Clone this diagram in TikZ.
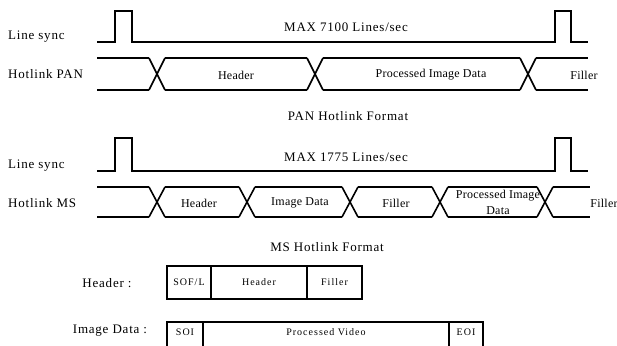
\documentclass[tikz,border=0pt]{standalone}
\usepackage{fontspec}
\setmainfont{Liberation Serif}
\newfontfamily\spacedfont[LetterSpace=6]{Liberation Serif}
\newfontfamily\busfont[LetterSpace=2]{Liberation Serif}
\newfontfamily\cellfont[LetterSpace=10]{Liberation Serif}
\usetikzlibrary{positioning}

\tikzset{
  wave/.style = {line width=1.6pt, line join=miter},
  siglabel/.style = {anchor=west, inner sep=0pt, font=\spacedfont\fontsize{13}{15}\selectfont},
  title/.style = {inner sep=0pt, font=\spacedfont\fontsize{13}{15}\selectfont},
  buslabel/.style = {inner sep=0pt, align=center, font=\busfont\fontsize{12}{16}\selectfont},
  cell/.style = {draw, line width=1.6pt, minimum height=33pt, inner sep=0pt, outer sep=0pt,
                 font=\cellfont\fontsize{10}{12}\selectfont},
  celltext/.style = {inner sep=0pt, font=\cellfont\fontsize{10}{12}\selectfont},
}

\begin{document}
\begin{tikzpicture}[x=1pt, y=-1pt]
  \clip (0,0) rectangle (617,345);
  \fill [white] (0,0) rectangle (617,345);

  % PAN line sync
  \node [siglabel] (syncpan) at (8,37) {Line sync};
  \draw [wave] (97,42) -- (115,42) -- (115,11) -- (132,11) -- (132,42)
    -- (555,42) -- (555,11) -- (571,11) -- (571,42) -- (588,42);
  \node [title] (maxpan) at (346,27) {MAX 7100 Lines/sec};

  % PAN hotlink bus
  \node [siglabel] (buspan) at (8,74) {Hotlink PAN};
  \foreach \a/\b in {97/149, 165/307, 323/520, 536/588}
    \draw [wave] (\a,58) -- (\b,58) (\a,90) -- (\b,90);
  \foreach \c in {157, 315, 528}
    \draw [wave] (\c-8,58) -- (\c+8,90) (\c-8,90) -- (\c+8,58);
  \node [buslabel] (panhead) at (236,75) {Header};
  \node [buslabel] (pandata) at (431,75) {Processed Image Data};
  \node [buslabel] (panfill) at (584,75) {Filler};
  \node [title] (panfmt) at (348,116) {PAN Hotlink Format};

  % MS line sync
  \node [siglabel] (syncms) at (8,166) {Line sync};
  \draw [wave] (97,171) -- (115,171) -- (115,138) -- (132,138) -- (132,171)
    -- (555,171) -- (555,138) -- (571,138) -- (571,171) -- (588,171);
  \node [title] (maxms) at (346,157) {MAX 1775 Lines/sec};

  % MS hotlink bus
  \node [siglabel] (busms) at (8,203) {Hotlink MS};
  \foreach \a/\b in {97/149, 165/239, 255/342, 358/432, 448/537, 553/590}
    \draw [wave] (\a,187) -- (\b,187) (\a,217) -- (\b,217);
  \foreach \c in {157, 247, 350, 440, 545}
    \draw [wave] (\c-8,187) -- (\c+8,217) (\c-8,217) -- (\c+8,187);
  \node [buslabel] (mshead) at (199,203) {Header};
  \node [buslabel] (msimg) at (300,203) {Image Data};
  \node [buslabel] (msfill) at (396,203) {Filler};
  \node [buslabel] (msproc) at (498,202) {Processed Image\\Data};
  \node [buslabel] (msend) at (604,203) {Filler};
  \node [title] (msfmt) at (327,247) {MS Hotlink Format};

  % header layout
  \node [title] (headkey) at (107,283) {Header\ :};
  \node [cell, minimum width=44pt, anchor=north west] (sof) at (167,266) {SOF/L};
  \node [cell, minimum width=96pt, right=0pt of sof] (hdr) {Header};
  \node [cell, minimum width=55pt, right=0pt of hdr] (fill) {Filler};

  % image data layout
  \node [title] (imgkey) at (110,331) {Image Data :};
  \node [cell, minimum width=36pt, anchor=north west] (soi) at (167,322) {};
  \node [cell, minimum width=246pt, right=0pt of soi] (video) {};
  \node [cell, minimum width=34pt, right=0pt of video] (eoi) {};
  \node [celltext] (soitext) at (soi |- 0,332) {SOI};
  \node [celltext] (videotext) at (video |- 0,332) {Processed Video};
  \node [celltext] (eoitext) at (eoi |- 0,332) {EOI};
\end{tikzpicture}
\end{document}
